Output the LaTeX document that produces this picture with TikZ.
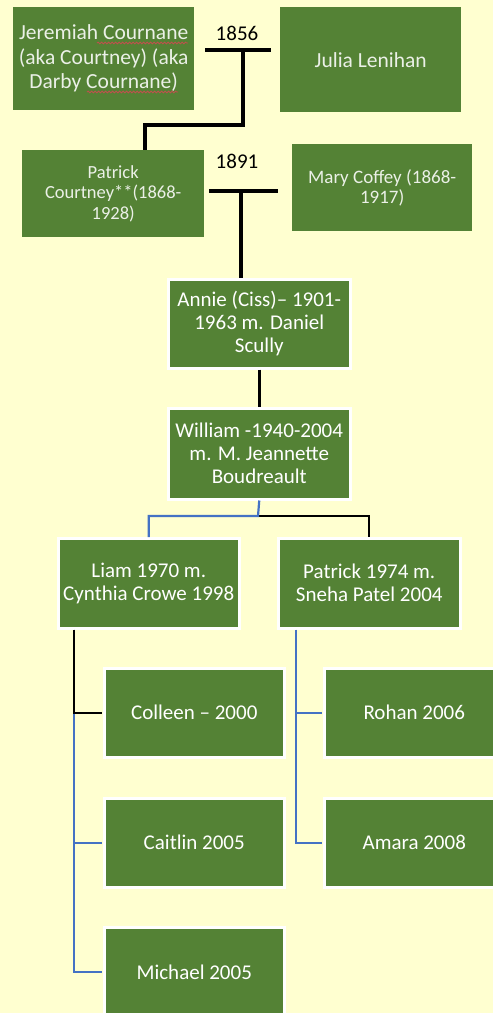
\documentclass[tikz,border=0pt]{standalone}
\usepackage{fontspec}
\setmainfont{Carlito}
\usetikzlibrary{decorations.pathmorphing}
\definecolor{paper}{HTML}{FFFFD0}
\definecolor{leaf}{HTML}{548235}
\definecolor{link}{HTML}{4472C4}
\definecolor{squiggle}{HTML}{C0504D}
\begin{document}
\begin{tikzpicture}[x=1pt,y=-1pt,
  gbox/.style={fill=leaf, text=white, align=center, inner sep=0pt, anchor=north west},
  oldbox/.style={gbox, text=white!88!leaf},
  newbox/.style={gbox, draw=white, line width=2.5pt, font=\fontsize{21}{23}\selectfont},
  bar/.style={draw=black, line width=4.5pt},
  stem/.style={draw=black, line width=4pt},
  kin/.style={draw=black, line width=2.2pt},
  kinb/.style={draw=link, line width=2.2pt},
  spell/.style={draw=squiggle, line width=0.8pt, decorate,
    decoration={snake, segment length=3.5pt, amplitude=0.9pt}},
  year/.style={text=black, font=\fontsize{21}{23}\selectfont, inner sep=0pt}]

% page
\fill[paper] (0,0) rectangle (493,1013);
\useasboundingbox (0,0) rectangle (493,1013);

% first generations
\node[oldbox, minimum width=181pt, minimum height=103pt, font=\fontsize{21.5}{24.5}\selectfont]
  (jer) at (13,7) {Jeremiah Cournane\\(aka Courtney) (aka\\Darby Cournane)};
\node[oldbox, minimum width=181pt, minimum height=105pt, font=\fontsize{21.5}{24.5}\selectfont]
  (jul) at (280,7) {Julia Lenihan};
\node[oldbox, minimum width=182pt, minimum height=87pt, font=\fontsize{18.5}{20.5}\selectfont]
  (pat) at (22,150) {Patrick\\Courtney**(1868-\\1928)};
\node[oldbox, minimum width=180pt, minimum height=87pt, font=\fontsize{19}{19.5}\selectfont]
  (mar) at (292,144) {Mary Coffey (1868-\\1917)};

% spelling marks under the surname
\draw[spell] (97,43) -- (188,43);
\draw[spell] (87,92) -- (178,92);

% later generations
\node[newbox, minimum width=182pt, minimum height=89pt] (ann) at (167,278)
  {Annie (Ciss)– 1901-\\1963 m. Daniel\\Scully};
\node[newbox, minimum width=182pt, minimum height=91pt] (wil) at (167,407)
  {William -1940-2004\\m. M. Jeannette\\Boudreault};
\node[newbox, minimum width=181pt, minimum height=90pt] (liam) at (57,537)
  {Liam 1970 m.\\Cynthia Crowe 1998};
\node[newbox, minimum width=182pt, minimum height=90pt] (pat2) at (277,537)
  {Patrick 1974 m.\\Sneha Patel 2004};
\node[newbox, minimum width=180pt, minimum height=89pt] (col) at (103,667) {Colleen – 2000};
\node[newbox, minimum width=180pt, minimum height=89pt] (roh) at (323,667) {Rohan 2006};
\node[newbox, minimum width=180pt, minimum height=89pt] (cai) at (103,797) {Caitlin 2005};
\node[newbox, minimum width=180pt, minimum height=89pt] (ama) at (323,797) {Amara 2008};
\node[newbox, minimum width=180pt, minimum height=90pt] (mic) at (103,926) {Michael 2005};

% marriage 1856
\node[year] (y1) at (237,33) {1856};
\coordinate (m1L) at (205,50);
\coordinate (m1R) at (271,50);
\coordinate (m1) at (243,50);
\coordinate (j1) at (145,125);
\draw[bar] (m1L) -- (m1R);
\draw[stem] (m1) |- (j1) -- (j1 |- pat.north);

% marriage 1891
\node[year] (y2) at (237,161) {1891};
\coordinate (m2L) at (209,191);
\coordinate (m2R) at (278,191);
\coordinate (m2) at (241,191);
\draw[bar] (m2L) -- (m2R);
\draw[draw=black, line width=3.3pt] (m2) -- (m2 |- ann.north);

% Annie to William
\draw[draw=black, line width=2.5pt] (ann.south) -- (wil.north);

% William to his sons
\coordinate (w1) at (258,516);
\draw[kin] (w1) -| (pat2.north);
\draw[kinb] (wil.south) -- (w1) -| (liam.north);

% Liam's children
\coordinate (ls) at ([xshift=17pt]liam.south west);
\draw[kinb, shorten >=1.5pt] (ls) |- (mic.west);
\draw[kinb, shorten >=1.5pt] (ls |- cai.west) -- (cai.west);
\draw[kin, shorten >=1.5pt] (ls) |- (col.west);

% Patrick's children
\coordinate (ps) at ([xshift=19pt]pat2.south west);
\draw[kinb, shorten >=1.5pt] (ps) |- (ama.west);
\draw[kinb, shorten >=1.5pt] (ps |- roh.west) -- (roh.west);
\end{tikzpicture}
\end{document}
